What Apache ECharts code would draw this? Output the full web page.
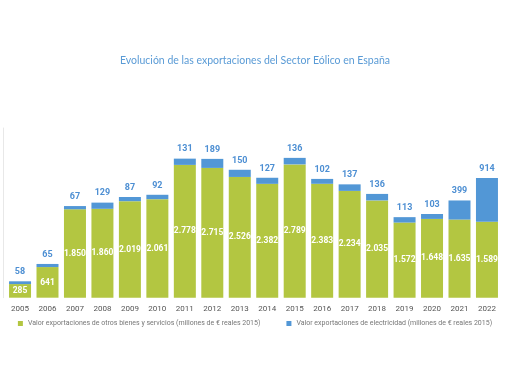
<!DOCTYPE html>
<html><head><meta charset="utf-8">
<script src="https://cdn.jsdelivr.net/npm/echarts@6/dist/echarts.min.js"></script>
<style>html,body{margin:0;padding:0;background:#fff}#c{width:510px;height:382px}</style>
</head><body><div id="c"></div>
<script>
var years = ['2005','2006','2007','2008','2009','2010','2011','2012','2013','2014','2015','2016','2017','2018','2019','2020','2021','2022'];
var otros = [285,641,1850,1860,2019,2061,2778,2715,2526,2382,2789,2383,2234,2035,1572,1648,1635,1589];
var electricidad = [58,65,67,129,87,92,131,189,150,127,136,102,137,136,113,103,399,914];
var nameOtros = 'Valor exportaciones de otros bienes y servicios (millones de € reales 2015)';
var nameElec = 'Valor exportaciones de electricidad (millones de € reales 2015)';
var titleText = 'Evolución de las exportaciones del Sector Eólico en España';

function fmt(v){return String(v).replace(/\B(?=(\d{3})+(?!\d))/g,'.');}

var chart = echarts.init(document.getElementById('c'));
chart.setOption({
  animation:false,
  title:{text:titleText,left:'center',top:50,textStyle:{fontFamily:'Lato, "Open Sans", sans-serif',fontSize:10.5,fontWeight:'normal',color:'#5a9bd6'}},
  legend:{bottom:50,left:'center',itemWidth:5,itemHeight:5,itemGap:26,icon:'rect',
    textStyle:{fontFamily:'Roboto, sans-serif',fontSize:7,color:'#777'},
    data:[nameOtros,nameElec]},
  grid:{left:6.3,right:9.3,top:128,height:169.7,containLabel:false},
  xAxis:{type:'category',data:years,axisLine:{show:false},axisTick:{show:false},
    axisLabel:{margin:7,fontFamily:'Roboto, sans-serif',fontSize:8,color:'#555'}},
  yAxis:{type:'value',min:0,max:3550,offset:3,axisLine:{show:true,lineStyle:{color:'#e8e8e8',width:1}},
    axisLabel:{show:false},axisTick:{show:false},splitLine:{show:false}},
  series:[
    {name:nameOtros,type:'bar',stack:'t',barWidth:22,data:otros,itemStyle:{color:'#b3c641'},
     label:{show:true,position:'inside',formatter:function(p){return fmt(p.value);},
       fontFamily:'Roboto, sans-serif',fontWeight:'bold',fontSize:8.5,color:'#fff'}},
    {name:nameElec,type:'bar',stack:'t',barWidth:22,data:electricidad,itemStyle:{color:'#5297d6'},
     label:{show:true,position:'top',distance:5,formatter:function(p){return fmt(p.value);},
       fontFamily:'Roboto, sans-serif',fontWeight:'bold',fontSize:9,color:'#4d8fd3'}}
  ]
});
</script></body></html>
